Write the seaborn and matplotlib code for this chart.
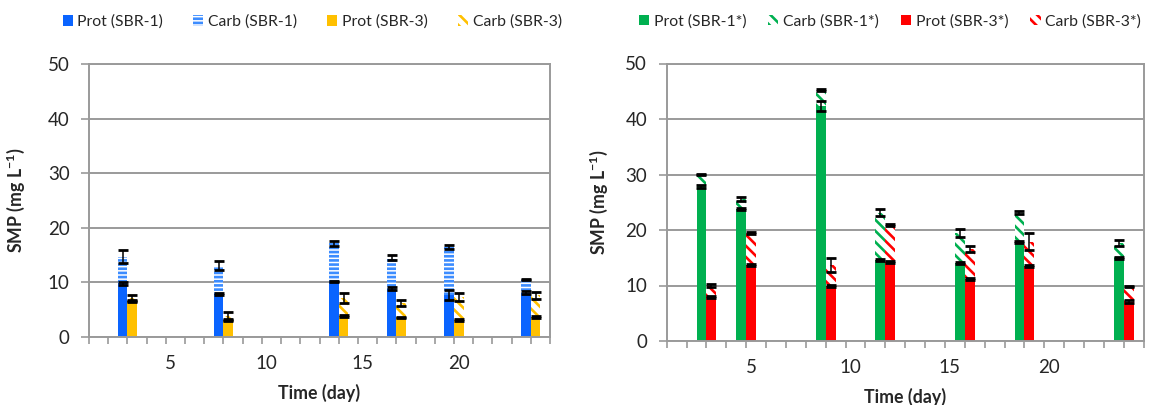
import numpy as np
import pandas as pd
import matplotlib
matplotlib.use("Agg")
import matplotlib.pyplot as plt
import matplotlib.patches as mpatches
import seaborn as sns

# ---- left panel: SBR-1 / SBR-3 ----
days_left = [3, 8, 14, 17, 20, 24]          # sampling days of SBR-3 (SBR-1 drawn half a day earlier)
prot_sbr1 = [9.8, 7.8, 10.1, 8.8, 7.6, 8.1]
prot_sbr1_err = [0.25, 0.15, 0.15, 0.3, 0.95, 0.2]
carb_sbr1 = [4.9, 5.2, 7.0, 5.7, 8.8, 2.4]
carb_sbr1_err = [1.2, 0.8, 0.5, 0.5, 0.4, 0.15]
prot_sbr3 = [6.5, 3.1, 3.8, 3.5, 3.1, 3.6]
prot_sbr3_err = [0.15, 0.15, 0.15, 0.15, 0.15, 0.15]
carb_sbr3 = [0.6, 0.7, 3.3, 2.7, 4.2, 4.0]
carb_sbr3_err = [0.6, 0.7, 0.9, 0.55, 0.7, 0.6]

# ---- right panel: SBR-1* / SBR-3* ----
days_right = [3, 5, 9, 12, 16, 19, 24]
prot_sbr1s = [27.9, 23.8, 42.4, 14.6, 14.1, 17.8, 15.0]
prot_sbr1s_err = [0.25, 0.2, 0.9, 0.15, 0.15, 0.15, 0.15]
carb_sbr1s = [2.1, 1.8, 2.8, 8.5, 5.3, 5.3, 2.7]
carb_sbr1s_err = [0.15, 0.35, 0.15, 0.6, 0.75, 0.3, 0.5]
prot_sbr3s = [7.9, 13.7, 9.9, 14.2, 11.2, 13.5, 7.1]
prot_sbr3s_err = [0.15, 0.15, 0.15, 0.15, 0.15, 0.15, 0.3]
carb_sbr3s = [2.1, 5.8, 3.8, 6.7, 5.4, 4.4, 2.8]
carb_sbr3s_err = [0.35, 0.15, 1.2, 0.15, 0.5, 1.5, 0.1]

x_labels = [5, 10, 15, 20]
legend_left = ["Prot (SBR-1)", "Carb (SBR-1)", "Prot (SBR-3)", "Carb (SBR-3)"]
legend_right = ["Prot (SBR-1*)", "Carb (SBR-1*)", "Prot (SBR-3*)", "Carb (SBR-3*)"]

BLUE, YELLOW, GREEN, RED = "#0A64FF", "#FFC000", "#00B050", "#FF0000"
STRIPE_BLUE = "#3C8CFF"
GRID = "#9a9a9a"
H_STRIPES = "----"
H_DIAG = "\\\\\\"

sns.set_theme(style="white")
plt.rcParams["font.family"] = ["Lato", "DejaVu Sans"]
plt.rcParams["mathtext.fontset"] = "custom"
plt.rcParams["mathtext.rm"] = "Lato"
plt.rcParams["mathtext.bf"] = "Lato:bold"
plt.rcParams["hatch.linewidth"] = 1.9

BAR_W = 0.5


def draw_bars(ax, x, height, color, hatch=None):
    n0 = len(ax.patches)
    xs = np.asarray(x, dtype=float)
    native = np.min(np.diff(np.unique(xs)))
    df = pd.DataFrame({"day": xs, "value": height})
    sns.barplot(data=df, x="day", y="value", native_scale=True,
                width=BAR_W / native, color=color, saturation=1,
                errorbar=None, ax=ax)
    for p in ax.patches[n0:]:
        p.set_linewidth(0)
        p.set_zorder(2)
        if hatch:
            p.set_facecolor("white")
            p.set_edgecolor(color)
            if hasattr(p, "set_hatchcolor"):
                p.set_hatchcolor(color)
            p.set_hatch(hatch)


def draw_stack(ax, x, prot, prot_err, carb, carb_err, color, hatch, hatch_color=None):
    x = np.asarray(x, dtype=float)
    prot = np.asarray(prot)
    total = prot + np.asarray(carb)
    draw_bars(ax, x, total, hatch_color or color, hatch)   # carbohydrate part on top of protein
    draw_bars(ax, x, prot, color)
    ax.errorbar(x, total, yerr=carb_err, fmt="none", ecolor="black",
                elinewidth=1.1, capsize=3.6, capthick=2, zorder=5)
    ax.errorbar(x, prot, yerr=prot_err, fmt="none", ecolor="black",
                elinewidth=1.1, capsize=3.6, capthick=2, zorder=5)


def style_axes(ax, xlabel_y, ylabel_x):
    ax.set_xlim(0.75, 24.75)
    ax.set_ylim(0, 50)
    ax.set_yticks(range(0, 51, 10))
    ax.set_yticklabels([str(v) for v in range(0, 51, 10)], fontsize=13.5)
    ax.set_xticks(x_labels)
    ax.set_xticklabels([str(v) for v in x_labels], fontsize=13.5)
    ax.set_xticks(np.arange(0.75, 24.76, 1.0), minor=True)
    ax.tick_params(axis="x", which="major", length=0, pad=13, bottom=True)
    ax.tick_params(axis="x", which="minor", length=5, width=1.2, color=GRID,
                   direction="out", bottom=True)
    ax.tick_params(axis="y", length=6, width=1.2, color=GRID, direction="out",
                   left=True, pad=8)
    ax.yaxis.grid(True, color=GRID, lw=1.4)
    ax.xaxis.grid(False)
    ax.set_axisbelow(True)
    for s in ax.spines.values():
        s.set_color(GRID)
        s.set_linewidth(1.4)
    ax.set_xlabel("Time (day)", fontsize=12.8, fontweight="bold")
    ax.set_ylabel(r"SMP (mg L$^{\mathbf{-1}}$)", fontsize=12.8, fontweight="bold")
    ax.xaxis.set_label_coords(0.5, xlabel_y)
    ax.yaxis.set_label_coords(ylabel_x, 0.5)


def legend(ax, labels, colors, hatches, anchor, spacing):
    handles = []
    for c, h in zip(colors, hatches):
        if h:
            handles.append(mpatches.Patch(facecolor="white", edgecolor=c, hatch=h, linewidth=0))
        else:
            handles.append(mpatches.Patch(facecolor=c, edgecolor=c, linewidth=0))
    ax.legend(handles, labels, loc="center", bbox_to_anchor=anchor, ncol=4,
              frameon=False, fontsize=11.3, handlelength=0.65, handleheight=0.65,
              handletextpad=0.3, columnspacing=spacing, borderaxespad=0)


fig = plt.figure(figsize=(11.59, 4.05), dpi=100)
ax1 = fig.add_axes([89 / 1159, (405 - 336.7) / 405, 461 / 1159, 272.7 / 405])
ax2 = fig.add_axes([666.7 / 1159, (405 - 341) / 405, 477 / 1159, 277.5 / 405])

d_left = np.asarray(days_left, dtype=float)
draw_stack(ax1, d_left - 0.5, prot_sbr1, prot_sbr1_err, carb_sbr1, carb_sbr1_err, BLUE, H_STRIPES, STRIPE_BLUE)
draw_stack(ax1, d_left, prot_sbr3, prot_sbr3_err, carb_sbr3, carb_sbr3_err, YELLOW, H_DIAG)

d_right = np.asarray(days_right, dtype=float)
draw_stack(ax2, d_right - 0.5, prot_sbr1s, prot_sbr1s_err, carb_sbr1s, carb_sbr1s_err, GREEN, H_DIAG)
draw_stack(ax2, d_right, prot_sbr3s, prot_sbr3s_err, carb_sbr3s, carb_sbr3s_err, RED, H_DIAG)

style_axes(ax1, -0.172, -0.134)
style_axes(ax2, -0.168, -0.119)

legend(ax1, legend_left, [BLUE, STRIPE_BLUE, YELLOW, YELLOW], [None, H_STRIPES, None, H_DIAG], (0.484, 1.154), 1.9)
legend(ax2, legend_right, [GREEN, GREEN, RED, RED], [None, H_DIAG, None, H_DIAG], (0.468, 1.151), 1.4)

fig.savefig("out.png", dpi=100)
